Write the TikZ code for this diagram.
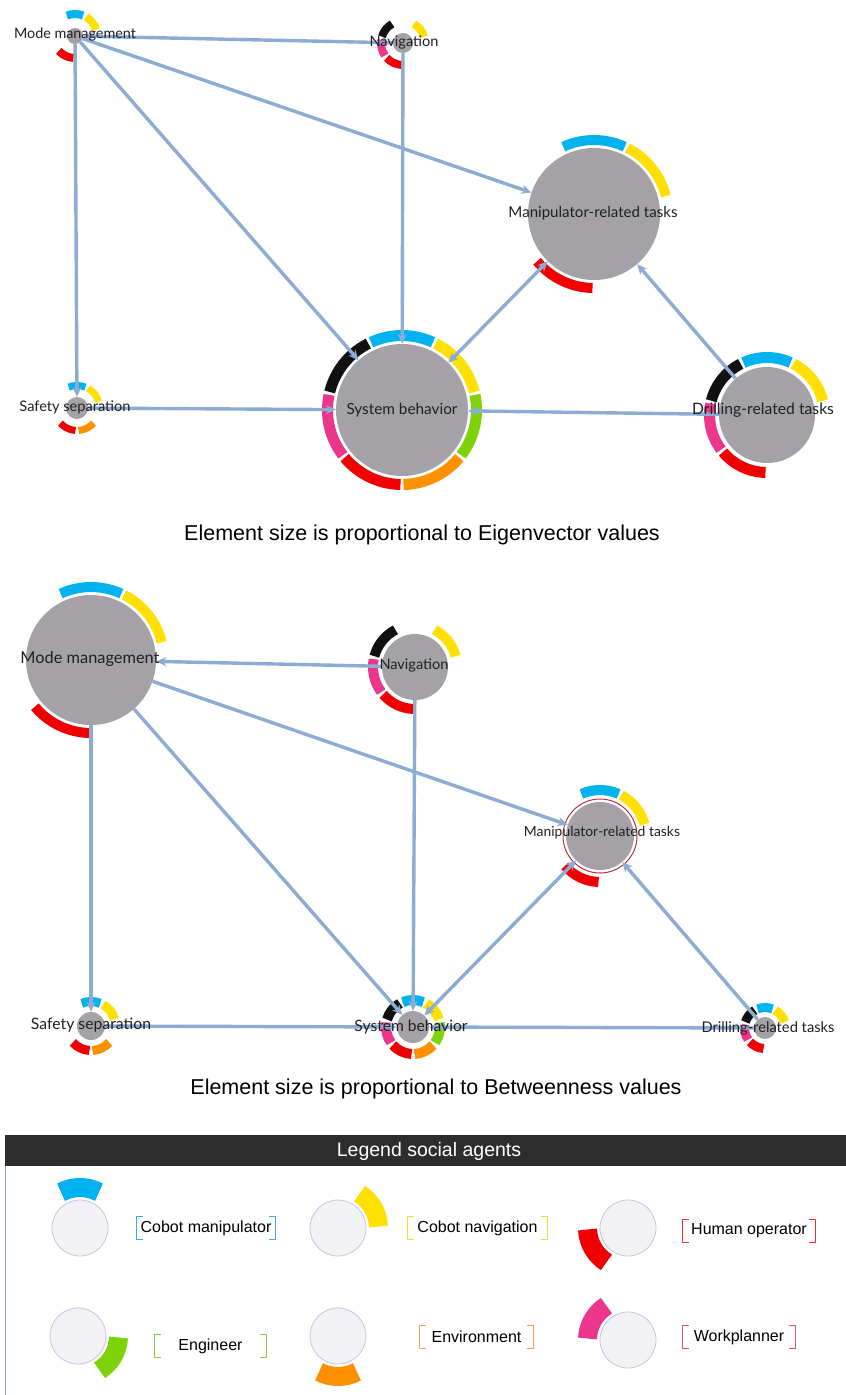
\documentclass[tikz,border=0pt]{standalone}
\usepackage{fontspec}
\setmainfont{Liberation Sans}
\newfontfamily\lblfont{Lato}
\usepackage{graphicx}
\usetikzlibrary{arrows.meta}

% agent colours
\definecolor{agcyan}{RGB}{0,178,238}
\definecolor{agyellow}{RGB}{255,224,0}
\definecolor{aggreen}{RGB}{125,210,10}
\definecolor{agorange}{RGB}{255,145,0}
\definecolor{agred}{RGB}{240,0,0}
\definecolor{agpink}{RGB}{236,54,140}
\definecolor{agblack}{RGB}{17,17,17}
% bracket colours (lighter)
\definecolor{brcyan}{RGB}{60,170,235}
\definecolor{bryellow}{RGB}{240,220,60}
\definecolor{brred}{RGB}{232,48,48}
\definecolor{brgreen}{RGB}{140,205,70}
\definecolor{brorange}{RGB}{240,160,80}
\definecolor{brpink}{RGB}{226,80,140}
% general colours
\definecolor{nodegray}{RGB}{164,162,167}
\definecolor{edgeblue}{RGB}{140,172,212}
\definecolor{lbltext}{RGB}{32,32,36}
\definecolor{hdrgray}{RGB}{45,45,45}
\definecolor{legfill}{RGB}{242,242,245}
\definecolor{legline}{RGB}{196,198,226}
\definecolor{boxline}{RGB}{130,160,200}
\definecolor{selred}{RGB}{190,50,60}

% slot centre angles of the seven social agents
\def\slotcyan{90}
\def\slotyellow{38.571}
\def\slotgreen{-12.857}
\def\slotorange{-64.286}
\def\slotred{-115.714}
\def\slotpink{-167.143}
\def\slotblack{141.429}

% one ring segment: node, inner radius, outer radius, centre angle, half span, colour
\newcommand{\ringseg}[6]{%
  \pgfmathsetmacro\rsMid{(#2+#3)/2}%
  \pgfmathsetmacro\rsW{#3-#2}%
  \pgfmathsetmacro\rsA{#4-#5+1.5/\rsMid*57.296}%
  \pgfmathsetmacro\rsB{#4+#5-1.5/\rsMid*57.296}%
  \draw[color=#6, line width=\rsW pt] (#1.center) ++(\rsA:\rsMid pt)
    arc[start angle=\rsA, end angle=\rsB, radius=\rsMid pt];}
% ring of agent segments round a node
\newcommand{\agentring}[4]{%
  \foreach \c in {#4}{\ringseg{#1}{#2}{#3}{\csname slot\c\endcsname}{25.714}{ag\c}}}
% corner brackets round a legend label
\newcommand{\bracketsof}[2]{%
  \draw[color=#2, line width=1.2pt] ([xshift=6pt]#1.north west) -- (#1.north west)
    -- (#1.south west) -- ++(6pt,0);
  \draw[color=#2, line width=1.2pt] ([xshift=-6pt]#1.north east) -- (#1.north east)
    -- (#1.south east) -- ++(-6pt,0);}

\tikzset{
  gnode/.style={circle, fill=nodegray, inner sep=0pt, minimum size=#1},
  glabel/.style={inner sep=0pt, text=lbltext, font=\lblfont},
  link/.style={draw=edgeblue, line width=3.4pt, -{Stealth[length=10pt,width=9pt]}},
  biglink/.style={draw=edgeblue, line width=3.4pt,
    {Stealth[length=10pt,width=9pt]}-{Stealth[length=10pt,width=9pt]}},
  caption/.style={font=\fontsize{21.5}{24}\selectfont, inner sep=0pt},
  legc/.style={circle, fill=legfill, draw=legline, line width=0.8pt,
    minimum size=56pt, inner sep=0pt},
  leglbl/.style={font=\fontsize{16}{18}\selectfont, inner sep=0pt, minimum height=22pt},
}

\begin{document}
\begin{tikzpicture}[x=1pt, y=-1pt]
\fill[white] (0,0) rectangle (846,1395);
\useasboundingbox (0,0) rectangle (846,1395);

% ---------------- eigenvector graph ----------------
\node[gnode=16pt]  (tMM)  at (75,36)   {};
\node[gnode=20pt]  (tNav) at (403,43)  {};
\node[gnode=132pt] (tMan) at (594,214) {};
\node[gnode=22pt]  (tSaf) at (77,408)  {};
\node[gnode=132pt] (tSB)  at (402,410) {};
\node[gnode=96pt]  (tDri) at (767,415) {};

\agentring{tMM}{18}{26}{cyan,yellow,red}
\agentring{tNav}{18}{26}{black,yellow,pink,red}
\agentring{tMan}{69}{79}{cyan,yellow,red}
\agentring{tSaf}{19}{26}{cyan,yellow,red,orange}
\agentring{tSB}{69}{80}{cyan,yellow,green,orange,red,pink,black}
\agentring{tDri}{52}{63}{black,cyan,yellow,pink,red}

\draw[link] (tNav) -- (tMM);
\draw[link] (tMM) -- (tSaf);
\draw[link] (tMM) -- (tSB);
\draw[link] (tMM) -- (tMan);
\draw[link] (tNav) -- (tSB);
\draw[link] (tSaf) -- (tSB);
\draw[link] (tDri) -- (tSB);
\draw[biglink] (tMan) -- (tSB);
\draw[link] (tDri) -- (tMan);

\node[glabel] (tMMl)  at (75,35)  {\resizebox{122pt}{!}{Mode management}};
\node[glabel] (tNavl) at (404,42) {\resizebox{69pt}{!}{Navigation}};
\node[glabel] (tManl) at (593,213) {\resizebox{169pt}{!}{Manipulator-related tasks}};
\node[glabel] (tSafl) at (75,407) {\resizebox{111pt}{!}{Safety separation}};
\node[glabel] (tSBl)  at (402,410) {\resizebox{111pt}{!}{System behavior}};
\node[glabel] (tDril) at (763,410) {\resizebox{142pt}{!}{Drilling-related tasks}};

\node[caption] (cap1) at (422,535) {Element size is proportional to Eigenvector values};

% ---------------- betweenness graph ----------------
\node[gnode=130pt] (bMM)  at (91,660)   {};
\node[gnode=66pt]  (bNav) at (415,667)  {};
\node[gnode=68pt]  (bMan) at (600,836)  {};
\node[gnode=28pt]  (bSaf) at (91,1026)  {};
\node[gnode=32pt]  (bSB)  at (413,1027) {};
\node[gnode=22pt]  (bDri) at (765,1028) {};

\draw[selred, line width=1pt] (bMan.center) circle[radius=37pt];

\agentring{bMM}{68}{78}{cyan,yellow,red}
\agentring{bNav}{37}{47}{black,yellow,pink,red}
\agentring{bMan}{41}{51}{cyan,yellow,red}
\agentring{bSaf}{20}{29}{cyan,yellow,red,orange}
\agentring{bSB}{22}{32}{cyan,yellow,green,orange,red,pink,black}
\agentring{bDri}{16}{25}{black,cyan,yellow,pink,red}

\draw[link] (bNav) -- (bMM);
\draw[link] (bMM) -- (bSaf);
\draw[link] (bMM) -- (bSB);
\draw[link] (bMM) -- (bMan);
\draw[link] (bNav) -- (bSB);
\draw[link] (bSaf) -- (bSB);
\draw[link] (bDri) -- (bSB);
\draw[biglink] (bMan) -- (bSB);
\draw[link] (bDri) -- (bMan);

\node[glabel] (bMMl)  at (90,659)   {\resizebox{139pt}{!}{Mode management}};
\node[glabel] (bNavl) at (414,665)  {\resizebox{69pt}{!}{Navigation}};
\node[glabel] (bManl) at (602,833)  {\resizebox{156pt}{!}{Manipulator-related tasks}};
\node[glabel] (bSafl) at (91,1025)  {\resizebox{120pt}{!}{Safety separation}};
\node[glabel] (bSBl)  at (411,1027) {\resizebox{113pt}{!}{System behavior}};
\node[glabel] (bDril) at (768,1028) {\resizebox{133pt}{!}{Drilling-related tasks}};

\node[caption] (cap2) at (436,1089) {Element size is proportional to Betweenness values};

% ---------------- legend ----------------
\fill[hdrgray] (5,1135) rectangle (846,1166);
\node[font=\fontsize{19.5}{22}\selectfont, text=white, inner sep=0pt] (lghead) at (429,1151) {Legend social agents};
\draw[boxline, line width=1pt] (5.5,1166) -- (5.5,1395);

\node[legc] (lg1) at (80,1228)  {};
\node[legc] (lg2) at (338,1228) {};
\node[legc] (lg3) at (628,1228) {};
\node[legc] (lg4) at (78,1336)  {};
\node[legc] (lg5) at (338,1336) {};
\node[legc] (lg6) at (628,1340) {};

\ringseg{lg1}{31}{50}{90}{30}{agcyan}
\ringseg{lg2}{31}{50}{30}{30}{agyellow}
\ringseg{lg3}{31}{50}{-150}{30}{agred}
\ringseg{lg4}{31}{50}{-30}{30}{aggreen}
\ringseg{lg5}{31}{50}{-90}{30}{agorange}
\ringseg{lg6}{31}{50}{150}{30}{agpink}

\node[leglbl, minimum width=138pt] (lt1) at (206,1228)   {Cobot manipulator};
\node[leglbl, minimum width=139pt] (lt2) at (477.5,1228) {Cobot navigation};
\node[leglbl, minimum width=132pt] (lt3) at (749,1231)   {Human operator};
\node[leglbl, minimum width=111pt] (lt4) at (210.5,1346) {Engineer};
\node[leglbl, minimum width=113pt] (lt5) at (476.5,1337) {Environment};
\node[leglbl, minimum width=112pt] (lt6) at (739,1337)   {Workplanner};

\bracketsof{lt1}{brcyan}
\bracketsof{lt2}{bryellow}
\bracketsof{lt3}{brred}
\bracketsof{lt4}{brgreen}
\bracketsof{lt5}{brorange}
\bracketsof{lt6}{brpink}
\end{tikzpicture}
\end{document}
